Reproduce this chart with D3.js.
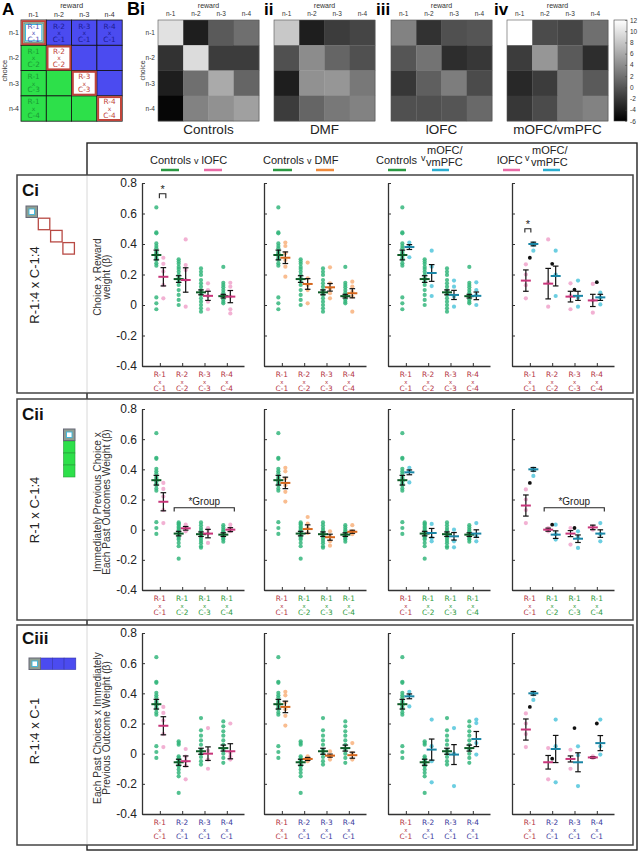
<!DOCTYPE html>
<html><head><meta charset="utf-8">
<script src="https://cdn.jsdelivr.net/npm/d3@7"></script>
<style>body{margin:0;background:#fff}svg{display:block}</style>
</head><body><svg id="c" width="640" height="853"></svg>
<script>
// ================= DATA =================
const lagLabels = ["n-1","n-2","n-3","n-4"];
const heatControls = [[9.9,-3.9,0.35,1.8],[-2.5,9.5,-1.8,-1.8],[-3.9,1.8,6,1.1],[-5.6,3.2,4.2,5.3]];
const heatDMF = [[8.1,-3.9,-1.8,-1.1],[-0.35,3.9,1.1,-0.35],[-3.9,4.2,4.6,2.5],[-1.8,1.1,2.5,3.2]];
const heatLOFC = [[3.2,-2.5,-0.35,0],[0,2.1,-2.8,-2.1],[-2.1,0.7,2.8,-0.7],[-0.35,-0.35,0,1.4]];
const heatMOFC = [[12,-0.7,-1.1,1.8],[-1.8,4.6,0.35,-2.8],[-3.2,-1.8,2.5,0.35],[-2.1,-0.7,2.5,3.2]];
const heatTitles = ["Controls","DMF","lOFC","mOFC/vmPFC"];
const heatPanelLabels = ["Bi","ii","iii","iv"];
const colorbarTicks = [12,10,8,6,4,2,0,-2,-4,-6];
const yTicks = [-0.4,-0.2,0,0.2,0.4,0.6,0.8];
const rowNames = ["Ci","Cii","Ciii"];
const rowTerms = ["R-1:4 x C-1:4","R-1 x C-1:4","R-1:4 x C-1"];
const rowYLabels = [["Choice x Reward","weight (β)"],["Immediately Previous Choice x","Each Past Outcomes Weight (β)"],["Each Past Choices x Immediately","Previous Outcome Weight (β)"]];
const ciTicks = [["R-1","C-1"],["R-2","C-2"],["R-3","C-3"],["R-4","C-4"]];
const ciiTicks = [["R-1","C-1"],["R-1","C-2"],["R-1","C-3"],["R-1","C-4"]];
const ciiiTicks = [["R-1","C-1"],["R-2","C-1"],["R-3","C-1"],["R-4","C-1"]];

// shared R-1 x C-1 term
const ctrlG1 = [0.64,0.476,0.47,0.404,0.387,0.372,0.35,0.339,0.321,0.306,0.295,0.273,0.258,0.05,0.011,-0.028];
const lofcG1 = [0.31,0.27,0.22,0.13,0.044];
const dmfG1 = [0.41,0.387,0.339,0.295,0.251,0.186];
const mofcG1 = [0.41,0.387,0.313];
const lofc4G1 = [0.267,0.2,0.13,0.044];
const mofc4G1 = [0.405,0.393,0.356];

// Ci
const ciCtrl = [ctrlG1,[0.3,0.285,0.27,0.25,0.236,0.218,0.197,0.175,0.153,0.131,0.098,0.066,0.033,0],[0.24,0.218,0.197,0.164,0.142,0.12,0.098,0.081,0.066,0.044,0.022,0,-0.022,-0.044],[0.25,0.146,0.131,0.116,0.098,0.081,0.066,0.055,0.037,0.022,0.011]];
const ciCtrlStats = [[0.328,0.032],[0.17,0.022],[0.083,0.016],[0.058,0.012]];
const ciLofc = [lofcG1,[0.43,0.262,0.229,0.164,-0.011],[0.142,0.098,0.059,0.022,-0.028],[0.146,0.12,0.055,-0.028,-0.055]];
const ciLofcStats = [[0.185,0.06],[0.164,0.08],[0.06,0.03],[0.055,0.04]];
const ciDmf = [dmfG1,[0.278,0.175,0.131,0.098,0.011],[0.247,0.142,0.109,0.077,0.044],[0.153,0.12,0.087,0.055,-0.044]];
const ciDmfStats = [[0.31,0.038],[0.138,0.035],[0.116,0.025],[0.077,0.03]];
const ciMofc = [mofcG1,[0.356,0.251,0.124,0.059],[0.16,0.12,0.055,-0.011],[0.149,0.098,0.066,0]];
const ciMofcStats = [[0.38,0.016],[0.21,0.055],[0.066,0.03],[0.06,0.025]];
const ciLofc4 = [lofc4G1,[0.43,0.15,-0.011],[0.142,0.06,-0.028],[0.138,0.03,-0.05]];
const ciLofc4Stats = [[0.16,0.07],[0.14,0.1],[0.055,0.035],[0.03,0.04]];
const ciSingle = [0.31,0.27,0.1,0.15];
const ciMofc4 = [mofc4G1,[0.356,0.2,0.059],[0.16,0.05,-0.011],[0.081,0.05,0.004]];
const ciMofc4Stats = [[0.4,0.012],[0.19,0.065],[0.06,0.03],[0.05,0.02]];

// Cii
const ciiCtrl = [ctrlG1,[0.048,0.04,0.033,0.02,0.011,0,-0.011,-0.02,-0.026,-0.044,-0.055,-0.066,-0.088,-0.11,-0.192],[0.048,0.03,0.011,-0.005,-0.02,-0.033,-0.044,-0.06,-0.075,-0.09,-0.11,-0.12],[0.03,0.015,0,-0.011,-0.022,-0.033,-0.044,-0.055,-0.066,-0.08]];
const ciiCtrlStats = [[0.328,0.032],[-0.026,0.015],[-0.03,0.015],[-0.033,0.012]];
const ciiLofc = [lofcG1,[0.033,0.011,0,-0.011],[0.011,0,-0.026,-0.088],[0.033,0.011,0,-0.01]];
const ciiLofcStats = [[0.185,0.06],[0.009,0.012],[-0.026,0.028],[0,0.013]];
const ciiDmf = [dmfG1,[0.084,0.04,0.011,-0.022],[-0.011,-0.044,-0.077,-0.106],[0.03,-0.01,-0.02,-0.03]];
const ciiDmfStats = [[0.31,0.038],[0.004,0.028],[-0.05,0.02],[-0.014,0.01]];
const ciiMofc = [mofcG1,[0.038,-0.055,-0.077],[0,-0.077,-0.117],[0.044,-0.044,-0.077]];
const ciiMofcStats = [[0.38,0.016],[-0.022,0.03],[-0.044,0.025],[-0.026,0.025]];
const ciiLofc4 = [lofc4G1,[0.011,0,-0.011],[0.011,-0.099],[0.022,0]];
const ciiLofc4Stats = [[0.16,0.07],[0,0.01],[-0.026,0.02],[0.015,0.015]];
const ciiSingle = [0.31,0.033,0.011,null];
const ciiMofc4 = [mofc4G1,[0.033,-0.03,-0.066],[-0.011,-0.05,-0.121],[0.044,-0.03,-0.077]];
const ciiMofc4Stats = [[0.4,0.012],[-0.033,0.025],[-0.06,0.025],[-0.026,0.025]];

// Ciii
const ciiiCtrl = [ctrlG1,[0.082,0.07,0.059,-0.017,-0.03,-0.039,-0.05,-0.061,-0.075,-0.084,-0.105,-0.127,-0.15,-0.26],[0.236,0.155,0.119,0.088,0.059,0.026,0,-0.022,-0.05,-0.072],[0.214,0.181,0.148,0.119,0.088,0.059,0.026,0,-0.028,-0.061]];
const ciiiCtrlStats = [[0.328,0.032],[-0.057,0.02],[0.016,0.02],[0.037,0.02]];
const ciiiLofc = [lofcG1,[0.031,-0.02,-0.05,-0.08,-0.17],[0.17,0.02,-0.039,-0.1],[0.2,0.004,-0.02,-0.039]];
const ciiiLofcStats = [[0.185,0.06],[-0.05,0.035],[0,0.045],[0.016,0.05]];
const ciiiDmf = [dmfG1,[-0.017,-0.035,-0.05],[0.015,-0.017,-0.039],[0.07,0.004,-0.039]];
const ciiiDmfStats = [[0.31,0.038],[-0.035,0.01],[-0.013,0.01],[-0.01,0.02]];
const ciiiMofc = [mofcG1,[0.226,0.05,-0.05,-0.19],[0.17,0,-0.215],[0.226,0.203,0.07,-0.006]];
const ciiiMofcStats = [[0.38,0.016],[0.027,0.07],[-0.006,0.066],[0.097,0.05]];
const ciiiLofc4 = [lofc4G1,[0.037,-0.17],[0.026,-0.1],[-0.017,-0.028]];
const ciiiLofc4Stats = [[0.16,0.07],[-0.057,0.045],[-0.035,0.02],[-0.025,0.005]];
const ciiiSingle = [0.31,-0.033,0.17,0.2];
const ciiiMofc4 = [mofc4G1,[0.226,0.05,-0.19],[0.049,-0.01,-0.215],[0.226,0.049,-0.006]];
const ciiiMofc4Stats = [[0.4,0.012],[0.031,0.09],[-0.057,0.063],[0.07,0.05]];

// ================= STYLE =================
const COL = {
  ctrl:{dot:"#35b67c", mean:"#0d5a26", leg:"#2a9a42"},
  lofc:{dot:"#f0a3cb", mean:"#c8357a", leg:"#e96aa6"},
  dmf:{dot:"#f8b27c", mean:"#d5661c", leg:"#f08a3a"},
  mofc:{dot:"#52c6dc", mean:"#1a86a6", leg:"#2aaed0"}
};
const RED="#b3343f", GRN="#2b9a3a", BLU="#3a3a9c";
const BLUECELL="#4b4bf0", GREENCELL="#2de04a";
const FONT="Liberation Sans, Arial, sans-serif";
const DJ="DejaVu Sans, sans-serif";

const svg = d3.select("#c");

// stacked 3-line label as one text element
function stack(g,x,y,lines,color,big,small,gap){
  const t=g.append("text").attr("text-anchor","middle").attr("font-family",DJ).attr("fill",color);
  lines.forEach((s,k)=>t.append("tspan").attr("x",x).attr("y",y+k*gap).attr("font-size",k==1?small:big).text(s));
  return t;
}

// ================= PANEL A =================
(function(){
  const g = svg.append("g");
  const x0=21, y0=20, cs=25.3;
  g.append("text").attr("x",2).attr("y",15).attr("font-family",FONT).attr("font-weight","bold").attr("font-size",17).text("A");
  g.append("text").attr("x",x0+2*cs).attr("y",8).attr("text-anchor","middle").attr("font-family",FONT).attr("font-size",7.5).attr("fill","#333").text("reward");
  g.append("text").attr("transform",`translate(7,${y0+2*cs}) rotate(-90)`).attr("text-anchor","middle").attr("font-family",FONT).attr("font-size",7.5).attr("fill","#333").text("choice");
  lagLabels.forEach((l,i)=>{
    g.append("text").attr("x",x0+cs*(i+0.5)).attr("y",17).attr("text-anchor","middle").attr("font-family",FONT).attr("font-size",7).attr("fill","#333").text(l);
    g.append("text").attr("x",x0-2).attr("y",y0+cs*(i+0.5)+2.5).attr("text-anchor","end").attr("font-family",FONT).attr("font-size",7).attr("fill","#333").text(l);
  });
  const cells=[];
  for(let r=0;r<4;r++)for(let c=0;c<4;c++)cells.push({r,c});
  function cellText(x,y,lines,color){ stack(g,x+cs/2,y+8.5,lines,color,7.3,6,6.6); }
  cells.forEach(({r,c})=>{
    const x=x0+c*cs, y=y0+r*cs;
    let fill = c>r?BLUECELL:(c<r?GREENCELL:"#fff");
    g.append("rect").attr("x",x).attr("y",y).attr("width",cs).attr("height",cs).attr("fill",fill).attr("stroke","#111").attr("stroke-width",0.8);
  });
  cells.forEach(({r,c})=>{
    const x=x0+c*cs, y=y0+r*cs;
    if(r==c){
      g.append("rect").attr("x",x+1.2).attr("y",y+1.2).attr("width",cs-2.4).attr("height",cs-2.4).attr("fill","#fff").attr("stroke","#c0443a").attr("stroke-width",2);
      if(r==0){
        g.append("rect").attr("x",x+3).attr("y",y+3).attr("width",cs-6).attr("height",cs-6).attr("fill","#fff").attr("stroke","#7a9a82").attr("stroke-width",1.6);
        g.append("rect").attr("x",x+4.5).attr("y",y+4.5).attr("width",cs-9).attr("height",cs-9).attr("fill","#fff").attr("stroke","#3ab8e0").attr("stroke-width",1);
        cellText(x,y,["R-1","x","C-1"],"#5050b8");
      } else cellText(x,y,["R-"+(c+1),"x","C-"+(r+1)],"#c0443a");
    } else if(c>r && r==0){
      cellText(x,y,["R-"+(c+1),"x","C-1"],"#1c1c90");
    } else if(c<r && c==0){
      cellText(x,y,["R-1","x","C-"+(r+1)],"#1a9a35");
    }
  });
})();

// ================= PANEL B =================
(function(){
  const g = svg.append("g");
  const heats=[heatControls,heatDMF,heatLOFC,heatMOFC];
  const hx=[158,274,391,507], hy=20, hs=101;
  const grey = d3.scaleLinear().domain([-6,12]).range(["#000","#fff"]).clamp(true);
  const lblX=[127,264,376,494];
  heats.forEach((m,p)=>{
    const xs=d3.scaleBand().domain(d3.range(4)).range([hx[p],hx[p]+hs]);
    const ys=d3.scaleBand().domain(d3.range(4)).range([hy,hy+hs]);
    m.forEach((row,r)=>row.forEach((v,c)=>{
      g.append("rect").attr("x",xs(c)).attr("y",ys(r)).attr("width",xs.bandwidth()+0.3).attr("height",ys.bandwidth()+0.3).attr("fill",grey(v));
    }));
    g.append("rect").attr("x",hx[p]).attr("y",hy).attr("width",hs).attr("height",hs).attr("fill","none").attr("stroke","#555").attr("stroke-width",0.6);
    g.append("text").attr("x",lblX[p]).attr("y",15).attr("font-family",FONT).attr("font-weight","bold").attr("font-size",p==0?18:17).text(heatPanelLabels[p]);
    g.append("text").attr("x",hx[p]+hs/2).attr("y",8).attr("text-anchor","middle").attr("font-family",FONT).attr("font-size",7).attr("fill","#333").text("reward");
    lagLabels.forEach((l,i)=>{
      g.append("text").attr("x",xs(i)+xs.bandwidth()/2).attr("y",16).attr("text-anchor","middle").attr("font-family",FONT).attr("font-size",6.5).attr("fill","#333").text(l);
      if(p==0) g.append("text").attr("x",hx[p]-3).attr("y",ys(i)+ys.bandwidth()/2+2.5).attr("text-anchor","end").attr("font-family",FONT).attr("font-size",6.5).attr("fill","#333").text(l);
    });
    if(p==0) g.append("text").attr("transform",`translate(145,${hy+hs/2}) rotate(-90)`).attr("text-anchor","middle").attr("font-family",FONT).attr("font-size",7).attr("fill","#333").text("choice");
    g.append("text").attr("x",hx[p]+hs/2).attr("y",134).attr("text-anchor","middle").attr("font-family",FONT).attr("font-size",13.5).attr("fill","#222").text(heatTitles[p]);
  });
  // colorbar
  const cbx=614, cbw=13;
  const cy=d3.scaleLinear().domain([-6,12]).range([hy+hs,hy]);
  const defs=svg.append("defs");
  const lg=defs.append("linearGradient").attr("id","cb").attr("x1",0).attr("y1",1).attr("x2",0).attr("y2",0);
  lg.append("stop").attr("offset","0%").attr("stop-color","#000");
  lg.append("stop").attr("offset","100%").attr("stop-color","#fff");
  g.append("rect").attr("x",cbx).attr("y",hy).attr("width",cbw).attr("height",hs).attr("fill","url(#cb)").attr("stroke","#444").attr("stroke-width",0.6);
  const ax=g.append("g").attr("transform",`translate(${cbx+cbw},0)`).call(d3.axisRight(cy).tickValues(colorbarTicks).tickSize(-2).tickSizeOuter(0).tickPadding(3).tickFormat(d=>String(d)));
  ax.select(".domain").remove();
  ax.selectAll("line").attr("stroke","#444").attr("stroke-width",0.5);
  ax.selectAll("text").attr("font-family",FONT).attr("font-size",6.5).attr("fill","#333");
})();

// ================= FRAMES =================
svg.append("rect").attr("x",87).attr("y",143).attr("width",550).attr("height",707).attr("fill","none").attr("stroke","#222").attr("stroke-width",1.4);
const boxY=[[175,393],[399,620],[625,845]];
boxY.forEach(([a,b])=>{
  svg.append("rect").attr("x",17).attr("y",a).attr("width",616).attr("height",b-a).attr("fill","#fff").attr("stroke","#444").attr("stroke-width",1.5);
  svg.append("line").attr("x1",87).attr("x2",87).attr("y1",a+1).attr("y2",b-1).attr("stroke","#d8d8d8").attr("stroke-width",1);
});

// legend header
(function(){
  const g=svg.append("g").attr("font-family",FONT).attr("fill","#222");
  function simple(x,a,b){
    const t=g.append("text").attr("x",x).attr("y",164).attr("font-size",11);
    t.append("tspan").text(a+" ");
    t.append("tspan").attr("font-size",9).text("v");
    t.append("tspan").text(" "+b);
  }
  simple(150,"Controls","lOFC");
  simple(263,"Controls","DMF");
  function stacked(x,a,vx,mx){
    const t=g.append("text").attr("font-size",11);
    t.append("tspan").attr("x",x).attr("y",164).text(a);
    t.append("tspan").attr("x",vx).attr("y",161).attr("font-size",9).text("v");
    t.append("tspan").attr("x",mx+1).attr("y",154).text("mOFC/");
    t.append("tspan").attr("x",mx).attr("y",166).text("vmPFC");
  }
  stacked(376,"Controls",421,426);
  stacked(497,"lOFC",525,531);
  const legLines=[[161,179,"ctrl"],[204,222,"lofc"],[273,292,"ctrl"],[316,334,"dmf"],[388,406,"ctrl"],[432,449,"mofc"],[503,520,"lofc"],[543,560,"mofc"]];
  legLines.forEach(([a,b,k])=>svg.append("line").attr("x1",a).attr("x2",b).attr("y1",170).attr("y2",170).attr("stroke",COL[k].leg).attr("stroke-width",2.5));
})();

// ================= SCATTER PANELS =================
const rowsTop=[183,409,633], rowsBot=[366,590,814];
const panelX=[142,264,388,512], panelW=102;
const rowTickLabels=[ciTicks,ciiTicks,ciiiTicks];
const rowTickColors=[[RED,RED,RED,RED],[RED,GRN,GRN,GRN],[RED,BLU,BLU,BLU]];
const rowData=[
  {ctrl:[ciCtrl,ciCtrlStats],lofc:[ciLofc,ciLofcStats],dmf:[ciDmf,ciDmfStats],mofc:[ciMofc,ciMofcStats],lofc4:[ciLofc4,ciLofc4Stats],single:ciSingle,mofc4:[ciMofc4,ciMofc4Stats]},
  {ctrl:[ciiCtrl,ciiCtrlStats],lofc:[ciiLofc,ciiLofcStats],dmf:[ciiDmf,ciiDmfStats],mofc:[ciiMofc,ciiMofcStats],lofc4:[ciiLofc4,ciiLofc4Stats],single:ciiSingle,mofc4:[ciiMofc4,ciiMofc4Stats]},
  {ctrl:[ciiiCtrl,ciiiCtrlStats],lofc:[ciiiLofc,ciiiLofcStats],dmf:[ciiiDmf,ciiiDmfStats],mofc:[ciiiMofc,ciiiMofcStats],lofc4:[ciiiLofc4,ciiiLofc4Stats],single:ciiiSingle,mofc4:[ciiiMofc4,ciiiMofc4Stats]}
];

function drawPanel(r,p){
  const g=svg.append("g");
  const x=d3.scaleLinear().domain([0.2,4.77]).range([panelX[p],panelX[p]+panelW]);
  const y=d3.scaleLinear().domain([-0.4,0.8]).range([rowsBot[r],rowsTop[r]]);
  const D=rowData[r];
  let series;
  if(p==0) series=[[D.ctrl,"ctrl",-3.5],[D.lofc,"lofc",3.5]];
  else if(p==1) series=[[D.ctrl,"ctrl",-3.5],[D.dmf,"dmf",3.5]];
  else if(p==2) series=[[D.ctrl,"ctrl",-3.5],[D.mofc,"mofc",3.5]];
  else series=[[D.lofc4,"lofc",-4],[D.mofc4,"mofc",3.5]];
  // dots
  series.forEach(([[pts],k,off])=>{
    pts.forEach((arr,i)=>{
      g.selectAll(null).data(arr).enter().append("circle")
        .attr("cx",x(i+1)+off).attr("cy",d=>y(d)).attr("r",2.1)
        .attr("fill",COL[k].dot).attr("fill-opacity",0.85);
    });
  });
  if(p==3){
    D.single.forEach((v,i)=>{ if(v!==null) g.append("circle").attr("cx",x(i+1)).attr("cy",y(v)).attr("r",1.9).attr("fill","#111"); });
  }
  // means & error bars
  series.forEach(([[pts,stats],k,off])=>{
    stats.forEach(([m,se],i)=>{
      const cx=x(i+1)+off;
      g.append("line").attr("x1",cx).attr("x2",cx).attr("y1",y(m-se)).attr("y2",y(m+se)).attr("stroke","#111").attr("stroke-width",1.2);
      [m-se,m+se].forEach(v=>g.append("line").attr("x1",cx-2.8).attr("x2",cx+2.8).attr("y1",y(v)).attr("y2",y(v)).attr("stroke","#111").attr("stroke-width",1.2));
      g.append("line").attr("x1",cx-5).attr("x2",cx+5).attr("y1",y(m)).attr("y2",y(m)).attr("stroke",COL[k].mean).attr("stroke-width",2);
    });
  });
  // axes
  const ay=g.append("g").attr("transform",`translate(${panelX[p]},0)`)
    .call(d3.axisLeft(y).tickValues(yTicks).tickSize(-3).tickSizeOuter(0).tickPadding(5).tickFormat(p==0?(d=>String(d)):""));
  const ax=g.append("g").attr("transform",`translate(0,${rowsBot[r]})`)
    .call(d3.axisBottom(x).tickValues([1,2,3,4]).tickSize(-3).tickSizeOuter(0).tickFormat(""));
  [ay,ax].forEach(a=>{
    a.select(".domain").attr("stroke","#333").attr("stroke-width",1.3);
    a.selectAll(".tick line").attr("stroke","#333").attr("stroke-width",1);
  });
  ay.selectAll("text").attr("font-family",FONT).attr("font-size",12).attr("fill","#222");
  if(p!=0) ay.selectAll("text").remove();
  ax.selectAll(".tick text").remove();
  // x labels
  rowTickLabels[r].forEach(([a,b],i)=>{
    stack(g,x(i+1),rowsBot[r]+10.5,[a,"x",b],rowTickColors[r][i],7.4,5.4,7);
  });
  // significance markers
  if(r==0 && (p==0||p==3)){
    const xa = p==0? x(1)-0.5 : x(1)-5, xb = p==0? x(1)+6 : x(1)+1;
    const yv = p==0? 0.73 : 0.5, yl = p==0? 0.7 : 0.475;
    g.append("path").attr("d",`M${xa},${y(yl)}V${y(yv)}H${xb}V${y(yl)}`).attr("fill","none").attr("stroke","#222").attr("stroke-width",1.1);
    g.append("text").attr("x",(xa+xb)/2).attr("y",y(yv)-1).attr("text-anchor","middle").attr("font-family",FONT).attr("font-size",11).attr("fill","#222").text("*");
  }
  if(r==1 && (p==0||p==3)){
    const xa=x(2)-8, xb=x(4)+7.5, yv=y(0.145), yl=y(0.12);
    g.append("path").attr("d",`M${xa},${yl}V${yv}H${xb}V${yl}`).attr("fill","none").attr("stroke","#222").attr("stroke-width",1.1);
    g.append("text").attr("x",(xa+xb)/2).attr("y",yv-3).attr("text-anchor","middle").attr("font-family",FONT).attr("font-size",10).attr("fill","#222").text("*Group");
  }
}
for(let r=0;r<3;r++)for(let p=0;p<4;p++)drawPanel(r,p);

// row labels, icons, y labels
const ylabCY=[277,502,728];
rowNames.forEach((n,r)=>{
  svg.append("text").attr("x",22).attr("y",[196,420,644][r]).attr("font-family",FONT).attr("font-weight","bold").attr("font-size",17).attr("fill","#111").text(n);
  svg.append("text").attr("transform",`translate(39,${[285,510,731][r]}) rotate(-90)`).attr("text-anchor","middle").attr("font-family",FONT).attr("font-size",13).attr("fill","#222").text(rowTerms[r]);
  const t=svg.append("text").attr("transform",`translate(101,${ylabCY[r]}) rotate(-90)`).attr("text-anchor","middle").attr("font-family",FONT).attr("font-size",10.2).attr("fill","#333");
  rowYLabels[r].forEach((s,k)=>t.append("tspan").attr("x",0).attr("y",k*9).text(s));
});
// icons
function firstSq(x,y,s){
  svg.append("rect").attr("x",x).attr("y",y).attr("width",s).attr("height",s).attr("fill","#8e9e92").attr("stroke","#667").attr("stroke-width",1);
  svg.append("rect").attr("x",x+3).attr("y",y+3).attr("width",s-6).attr("height",s-6).attr("fill","#fff").attr("stroke","#3ab8e0").attr("stroke-width",0.9);
}
(function(){
  const s=11.5;
  for(let i=1;i<4;i++) svg.append("rect").attr("x",26+i*12.3).attr("y",206+i*12.2).attr("width",s).attr("height",s).attr("fill","#fff").attr("stroke","#b84a44").attr("stroke-width",1.3);
  firstSq(26,206,s);
  for(let i=1;i<4;i++) svg.append("rect").attr("x",63.5).attr("y",429+i*12).attr("width",11.5).attr("height",12).attr("fill",GREENCELL).attr("stroke","#2a9a3a").attr("stroke-width",0.6);
  firstSq(63.5,429,11.5);
  for(let i=1;i<4;i++) svg.append("rect").attr("x",29+i*11.7).attr("y",658).attr("width",11.7).attr("height",11.5).attr("fill",BLUECELL).attr("stroke","#3333aa").attr("stroke-width",0.6);
  firstSq(29,658,11.5);
})();
</script></body></html>
